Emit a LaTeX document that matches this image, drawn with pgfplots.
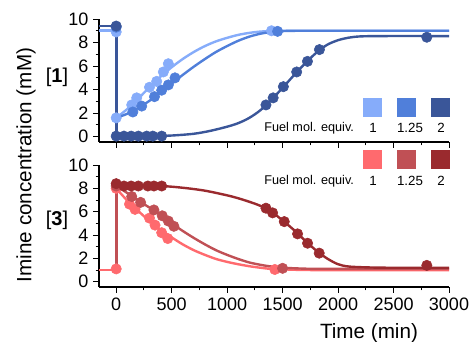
\documentclass[border=0pt]{standalone}
\usepackage{pgfplots}
\pgfplotsset{compat=1.18}
\usepackage{fontspec}
\setmainfont{Liberation Sans}
\definecolor{lb}{HTML}{86ACFA}
\definecolor{mb}{HTML}{507FDA}
\definecolor{db}{HTML}{3A5699}
\definecolor{lr}{HTML}{FF6A6E}
\definecolor{mr}{HTML}{C05055}
\definecolor{dr}{HTML}{9A2A2E}
\pgfplotsset{
  kin/.style={
    scale only axis, width=262.5pt,
    xmin=-155, xmax=3000,
    axis x line*=bottom, axis y line*=left,
    axis line style={-, line width=0.8pt},
    xtick={0,500,...,3000}, minor xtick={250,750,...,2750},
    ytick={0,2,...,10}, minor ytick={1,3,...,9},
    tick align=outside, major tick length=4.5pt, minor tick length=2.5pt,
    tick style={black, line width=0.7pt},
    ticklabel style={font=\fontsize{13.5}{15}\selectfont},
    /pgf/number format/assume math mode=true,
    /pgf/number format/1000 sep={},
    clip=false,
  },
  fit/.style={line width=1.8pt, smooth, no markers},
  pts/.style={only marks, mark=*, mark size=3.9pt},
}
\begin{document}
\begin{tikzpicture}
\path[use as bounding box] (0,0) rectangle (354pt,256.5pt);
% ---------------- top panel [1]
\begin{axis}[kin, at={(74.25pt,150pt)}, anchor=south west, height=92.25pt,
  ymin=-0.45, ymax=10, xticklabels={}]
\addplot[lb, line width=2pt] coordinates {(-155,9.05) (0,9.05) (0,1.6)};
\addplot[db, line width=2pt] coordinates {(-155,9.4) (0,9.4) (0,0.05)};
\addplot[lb, fit] coordinates {(0,1.6) (100,2.35) (200,3.25) (300,4.2) (400,5.1) (500,5.9) (600,6.6) (700,7.2) (800,7.7) (900,8.1) (1000,8.4) (1100,8.65) (1200,8.82) (1300,8.93) (1400,8.98) (1600,9.0) (3000,9.0)};
\addplot[mb, fit] coordinates {(0,1.6) (100,1.95) (200,2.45) (300,3.05) (400,3.75) (500,4.5) (600,5.25) (700,5.95) (800,6.6) (900,7.2) (1000,7.7) (1100,8.15) (1200,8.5) (1300,8.75) (1400,8.9) (1500,8.97) (1700,9.0) (3000,9.0)};
\addplot[db, fit] coordinates {(0,0.05) (300,0.05) (500,0.1) (700,0.25) (850,0.5) (1000,0.85) (1100,1.15) (1200,1.6) (1300,2.25) (1400,3.15) (1500,4.15) (1600,5.2) (1700,6.2) (1800,7.1) (1900,7.8) (2000,8.2) (2100,8.42) (2200,8.52) (2400,8.55) (3000,8.55)};
\addplot[pts, color=lb] coordinates {(0,8.9) (0,1.6) (140,2.7) (185,3.3) (300,4.2) (365,4.7) (425,5.5) (470,6.2) (1400,9.0)};
\addplot[pts, color=mb] coordinates {(0,9.3) (150,2.1) (230,2.6) (345,3.4) (410,3.95) (470,4.4) (530,5.0) (1455,8.95)};
\addplot[pts, color=db] coordinates {(0,9.4) (0,0.05) (70,0.05) (135,0.05) (200,0.05) (275,0.05) (330,0.05) (410,0.05) (1350,2.7) (1415,3.3) (1507,4.25) (1627,5.5) (1724,6.4) (1832,7.4) (2800,8.45)};
\end{axis}
% ---------------- bottom panel [3]
\begin{axis}[kin, at={(74.25pt,41.25pt)}, anchor=south west, height=91.5pt,
  ymin=-0.45, ymax=10]
\addplot[lr, line width=2pt] coordinates {(-155,1.0) (0,1.0) (0,8.0)};
\addplot[mr, line width=2pt] coordinates {(0,1.0) (0,8.3)};
\addplot[lr, fit] coordinates {(0,8.0) (100,6.95) (200,6.05) (300,5.2) (400,4.45) (500,3.8) (600,3.2) (700,2.7) (800,2.3) (900,1.95) (1000,1.7) (1100,1.5) (1200,1.33) (1300,1.2) (1400,1.1) (1600,1.03) (1800,1.0) (3000,1.0)};
\addplot[mr, fit] coordinates {(0,8.2) (100,7.6) (200,6.95) (300,6.35) (400,5.7) (500,5.0) (600,4.35) (700,3.75) (800,3.2) (900,2.7) (1000,2.3) (1100,1.95) (1200,1.65) (1300,1.45) (1400,1.3) (1500,1.2) (1700,1.12) (1900,1.1) (3000,1.1)};
\addplot[dr, fit] coordinates {(0,8.3) (400,8.2) (600,8.05) (800,7.8) (1000,7.4) (1100,7.15) (1200,6.85) (1300,6.5) (1400,6.0) (1500,5.25) (1600,4.45) (1700,3.55) (1800,2.7) (1900,2.0) (2000,1.5) (2100,1.3) (2300,1.22) (2500,1.2) (3000,1.2)};
\addplot[pts, color=lr] coordinates {(0,1.1) (0,8.0) (120,6.65) (170,6.2) (300,5.45) (350,4.85) (410,4.2) (465,3.7) (1430,1.05)};
\addplot[pts, color=mr] coordinates {(0,8.2) (140,7.3) (220,6.8) (340,6.15) (415,5.65) (470,5.2) (520,4.75) (1500,1.15)};
\addplot[pts, color=dr] coordinates {(0,8.4) (70,8.2) (135,8.2) (200,8.2) (285,8.2) (340,8.2) (410,8.2) (1350,6.3) (1410,5.9) (1515,5.15) (1635,4.1) (1725,3.3) (1830,2.45) (2800,1.4)};
\end{axis}
% ---------------- labels
\node[rotate=90, font=\fontsize{15.5}{18}\selectfont] at (19.5pt,132.75pt) {Imine concentration (mM)};
\node[font=\fontsize{15}{18}\selectfont] at (42.75pt,198.75pt) {[\textbf{1}]};
\node[font=\fontsize{15}{18}\selectfont] at (42.75pt,91.5pt) {[\textbf{3}]};
\node[font=\fontsize{15.5}{18}\selectfont] at (276.75pt,6.75pt) {Time (min)};
% legend top
\fill[lb] (272.6pt,169.1pt) rectangle ++(14.25pt,14.25pt);
\fill[mb] (298.1pt,169.1pt) rectangle ++(14.25pt,14.25pt);
\fill[db] (323.6pt,169.1pt) rectangle ++(14.25pt,14.25pt);
\node[anchor=east, font=\fontsize{9.5}{11}\selectfont] at (269pt,160.5pt) {Fuel mol. equiv.};
\node[font=\fontsize{10}{11}\selectfont] at (279.75pt,160.5pt) {1};
\node[font=\fontsize{10}{11}\selectfont] at (307.5pt,160.5pt) {1.25};
\node[font=\fontsize{10}{11}\selectfont] at (330.75pt,160.5pt) {2};
% legend bottom
\fill[lr] (272.6pt,129.4pt) rectangle ++(14.25pt,14.25pt);
\fill[mr] (298.1pt,129.4pt) rectangle ++(14.25pt,14.25pt);
\fill[dr] (323.6pt,129.4pt) rectangle ++(14.25pt,14.25pt);
\node[anchor=east, font=\fontsize{9.5}{11}\selectfont] at (269pt,120.75pt) {Fuel mol. equiv.};
\node[font=\fontsize{10}{11}\selectfont] at (279.75pt,120.75pt) {1};
\node[font=\fontsize{10}{11}\selectfont] at (307.5pt,120.75pt) {1.25};
\node[font=\fontsize{10}{11}\selectfont] at (330.75pt,120.75pt) {2};
\end{tikzpicture}
\end{document}
